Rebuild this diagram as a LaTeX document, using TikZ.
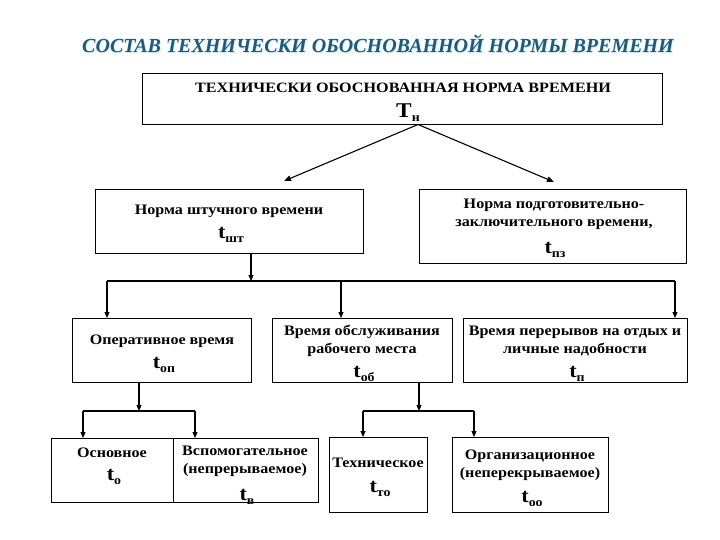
\documentclass[tikz,border=0pt]{standalone}
\usepackage{fontspec}
\setmainfont{Liberation Serif}
\newfontfamily\widef[FakeStretch=1.11]{Liberation Serif}
\newfontfamily\widerf[FakeStretch=1.13]{Liberation Serif}
\usetikzlibrary{arrows.meta}
\definecolor{titleblue}{RGB}{30,90,122}
\definecolor{titleglow}{RGB}{200,232,242}
\newcommand{\tsb}[1]{{\fontsize{20}{20}\selectfont t}\raisebox{-4pt}{\fontsize{12.5}{12.5}\selectfont #1}}
\begin{document}
\begin{tikzpicture}[x=1pt,y=-1pt,
  box/.style={draw, line width=1.1pt, inner sep=0pt, anchor=north west},
  txt/.style={inner sep=0pt, align=center, font=\widef\bfseries\fontsize{14.5}{18}\selectfont},
  ln/.style={line width=1.1pt},
  conn/.style={line width=1.1pt, -{Triangle[length=6pt,width=5pt]}},
  thin/.style={line width=1.1pt, -{Triangle[length=7pt,width=5.5pt]}}]
\useasboundingbox (0,0) rectangle (720,540);
\fill[white] (0,0) rectangle (720,540);
% title
\node[inner sep=0pt, text=titleglow, font=\bfseries\itshape\fontsize{20}{20}\selectfont] (titleg) at (378.6,44.6) {СОСТАВ ТЕХНИЧЕСКИ ОБОСНОВАННОЙ НОРМЫ ВРЕМЕНИ};
\node[inner sep=0pt, text=titleblue, font=\bfseries\itshape\fontsize{20}{20}\selectfont] (title) at (378,44) {СОСТАВ ТЕХНИЧЕСКИ ОБОСНОВАННОЙ НОРМЫ ВРЕМЕНИ};
% boxes
\node[box, minimum width=520pt, minimum height=51pt] (top) at (142,73) {};
\node[box, minimum width=268pt, minimum height=64pt] (A) at (95,189) {};
\node[box, minimum width=267pt, minimum height=74pt] (B) at (419,189) {};
\node[box, minimum width=179pt, minimum height=64pt] (C) at (72,318) {};
\node[box, minimum width=180pt, minimum height=64pt] (D) at (272,318) {};
\node[box, minimum width=224pt, minimum height=64pt] (E) at (463,318) {};
\node[box, minimum width=122pt, minimum height=64pt] (F) at (51,438) {};
\node[box, minimum width=145pt, minimum height=64pt] (G) at (173,438) {};
\node[box, minimum width=98pt, minimum height=75pt] (H) at (329,437) {};
\node[box, minimum width=156pt, minimum height=75pt] (I) at (452,437) {};
% texts
\node[txt, font=\widerf\bfseries\fontsize{14.3}{16}\selectfont] (topt) at (403,88) {ТЕХНИЧЕСКИ ОБОСНОВАННАЯ НОРМА ВРЕМЕНИ};
\node[txt] (topn) at (408,113) {{\fontsize{21}{21}\selectfont Т}\raisebox{-4pt}{\fontsize{12.5}{12.5}\selectfont н}};
\node[txt] (At) at (229,211) {Норма штучного времени};
\node[txt] (An) at (231,235) {\tsb{шт}};
\node[txt] (Bt) at (554,214) {Норма подготовительно-\\заключительного времени,};
\node[txt] (Bn) at (555,250) {\tsb{пз}};
\node[txt] (Ct) at (162,341) {Оперативное время};
\node[txt] (Cn) at (164,365) {\tsb{оп}};
\node[txt] (Dt) at (362,341) {Время обслуживания\\рабочего места};
\node[txt] (Dn) at (364,374) {\tsb{об}};
\node[txt] (Et) at (575,341) {Время перерывов на отдых и\\личные надобности};
\node[txt] (En) at (577,374) {\tsb{п}};
\node[txt] (Ft) at (112,453) {Основное};
\node[txt] (Fn) at (114,477) {\tsb{о}};
\node[txt] (Gt) at (245,461.5) {Вспомогательное\\(непрерываемое)};
\node[txt] (Gn) at (247,497) {\tsb{в}};
\node[txt] (Ht) at (378,463) {Техническое};
\node[txt] (Hn) at (380,489) {\tsb{то}};
\node[txt] (It) at (530,465) {Организационное\\(неперекрываемое)};
\node[txt] (In) at (532,499) {\tsb{оо}};
% connectors level 1
\coordinate (apex) at (418,124.5);
\coordinate (tipA) at (284,181);
\coordinate (tipB) at (554,182);
\draw[thin] (apex) -- (tipA);
\draw[thin] (apex) -- (tipB);
% level 2
\coordinate (barL) at (107,281);
\coordinate (barM) at (341,281);
\coordinate (barR) at (675,281);
\draw[conn] (A.south -| 251,0) -- (251,281);
\draw[ln] (barL) -- (barR);
\draw[conn] (barL) -- (barL |- C.north);
\draw[conn] (barM) -- (barM |- D.north);
\draw[conn] (barR) -- (barR |- E.north);
% level 3 left
\coordinate (b3L) at (83,411);
\coordinate (b3R) at (195,411);
\draw[conn] (C.south -| 139,0) -- (139,411);
\draw[ln] (b3L) -- (b3R);
\draw[conn] (b3L) -- (b3L |- F.north);
\draw[conn] (b3R) -- (b3R |- G.north);
% level 3 right
\coordinate (b4L) at (363,411);
\coordinate (b4R) at (474,411);
\draw[conn] (D.south -| 419,0) -- (419,411);
\draw[ln] (b4L) -- (b4R);
\draw[conn] (b4L) -- (b4L |- H.north);
\draw[conn] (b4R) -- (b4R |- I.north);
\end{tikzpicture}
\end{document}
